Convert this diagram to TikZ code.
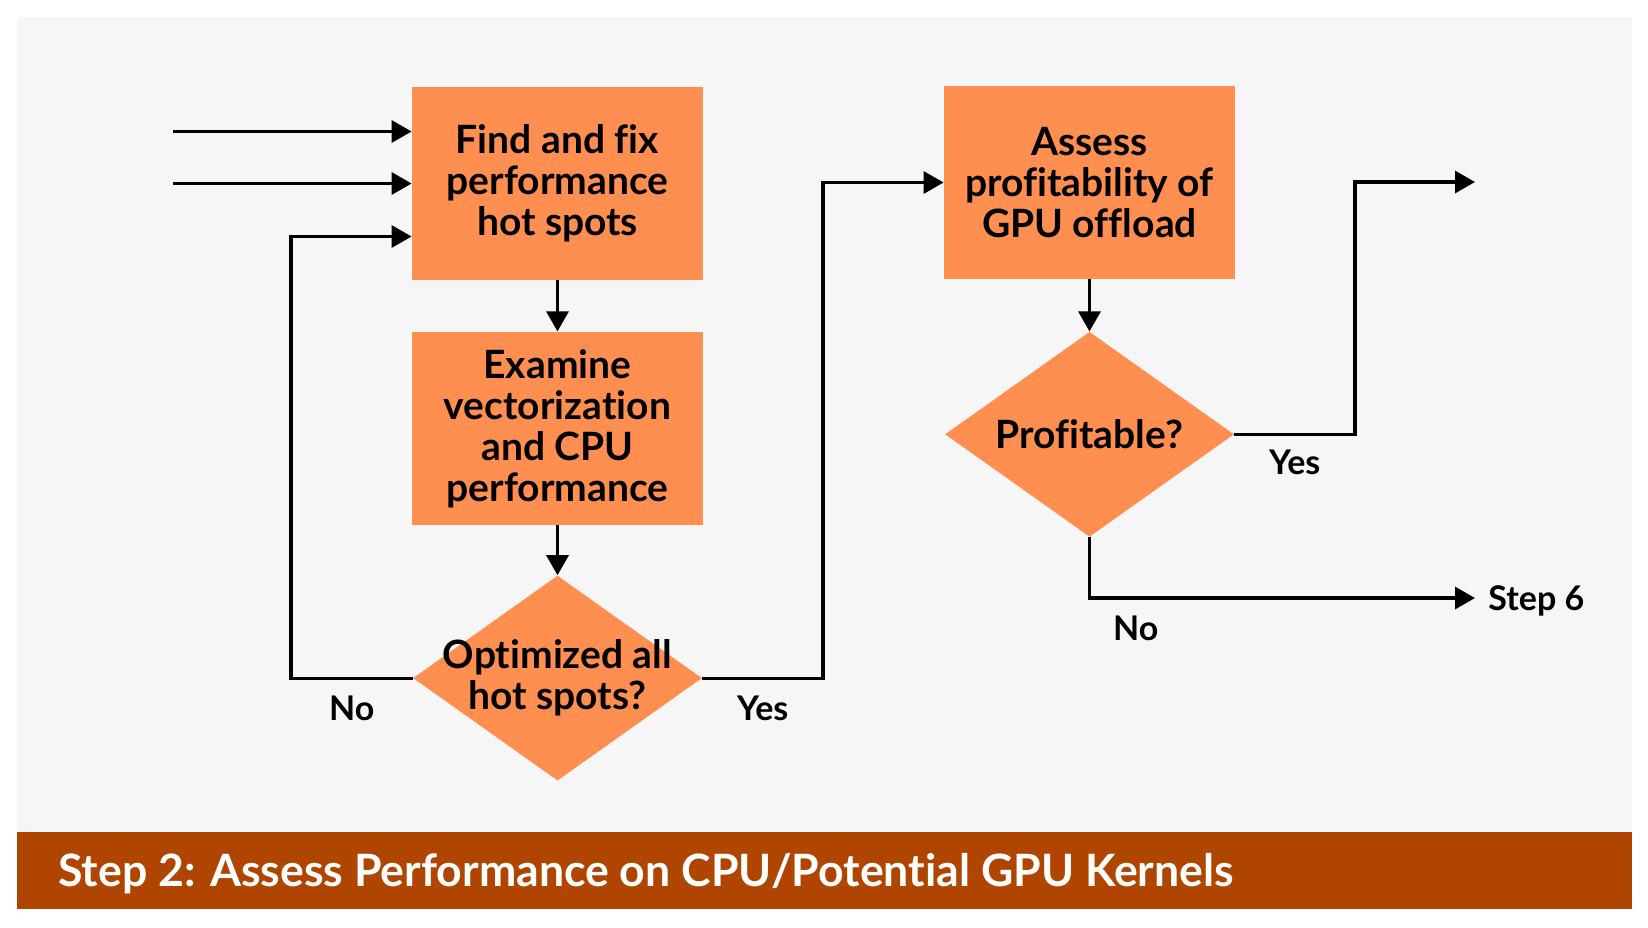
\documentclass[tikz,border=0pt]{standalone}
\usepackage{fontspec}
\setmainfont{Lato}[Ligatures=NoCommon]
\usetikzlibrary{positioning, shapes.geometric, arrows.meta}

\definecolor{boxorange}{HTML}{FF8F50}
\definecolor{bannerbrown}{HTML}{B04500}
\definecolor{panelgray}{HTML}{F6F6F6}

\tikzset{
	stepbox/.style={rectangle, fill=boxorange, minimum width=145.5pt, minimum height=96.5pt,
		inner sep=0pt, align=center, font=\fontsize{19.5}{20.5}\selectfont\bfseries},
	decision/.style={diamond, fill=boxorange, minimum width=144.5pt, minimum height=102.5pt,
		inner sep=0pt, label={[inner sep=0pt, align=center,
			font=\fontsize{19.5}{20.5}\selectfont\bfseries]center:#1}},
	flow/.style={line width=1.6pt, -{Triangle[length=10pt, width=11pt]}},
	answer/.style={inner sep=0pt, font=\fontsize{17}{19}\selectfont\bfseries},
	banner text/.style={inner sep=0pt, text=white, font=\fontsize{22.3}{24}\selectfont\bfseries}
}

\begin{document}
\begin{tikzpicture}[x=0.5pt, y=-0.5pt, node distance=25.5pt]
	% background and title bar
	\fill[white] (0,0) rectangle (1648,927);
	\fill[panelgray] (17,17) rectangle (1632,832);
	\fill[bannerbrown] (17,832) rectangle (1632,909);
	\node[banner text, anchor=west] (title) at (58,874) {Step 2: Assess Performance on CPU/Potential GPU Kernels};

	% steps
	\node[stepbox] (find) at (557.5,183.5) {Find and fix\\performance\\hot spots};
	\node[stepbox] (examine) [below=of find] {Examine\\vectorization\\and CPU\\performance};
	\node[decision={Optimized all\\hot spots?}] (optimized) [below=25pt of examine] {};
	\node[stepbox] (assess) at (1089.5,182.5) {Assess\\profitability of\\GPU offload};
	\node[decision={Profitable?}] (profitable) [below=26pt of assess] {};

	% free ends
	\coordinate (in1) at (173,131.5);
	\coordinate (in2) at (173,183.5);
	\coordinate (loop) at (291,0);
	\coordinate (yes1) at (823,0);
	\coordinate (yes2) at (1355,0);
	\coordinate (out) at (1475,182);
	\coordinate (step6) at (1475,598);
	\node[answer] (stepsix) [right=6.5pt of step6, yshift=-1.5pt] {Step 6};

	\draw[flow] (in1) -- (find.west |- in1);
	\draw[flow] (in2) -- (find.west);
	\draw[flow] (find) -- (examine);
	\draw[flow] (examine) -- (optimized);
	\draw[flow] (optimized.west) -- node[answer, below=8pt] {No} (optimized.west -| loop)
		|- ([yshift=-26.5pt]find.west);
	\draw[flow] (optimized.east) -- node[answer, below=8pt] {Yes} (optimized.east -| yes1)
		|- (assess.west);
	\draw[flow] (assess) -- (profitable);
	\draw[flow] (profitable.east) -- node[answer, below=7pt] {Yes} (profitable.east -| yes2)
		|- (out);
	\draw[flow] (profitable.south) |- node[answer, pos=0.56, below=8pt] {No} (step6);
\end{tikzpicture}
\end{document}
